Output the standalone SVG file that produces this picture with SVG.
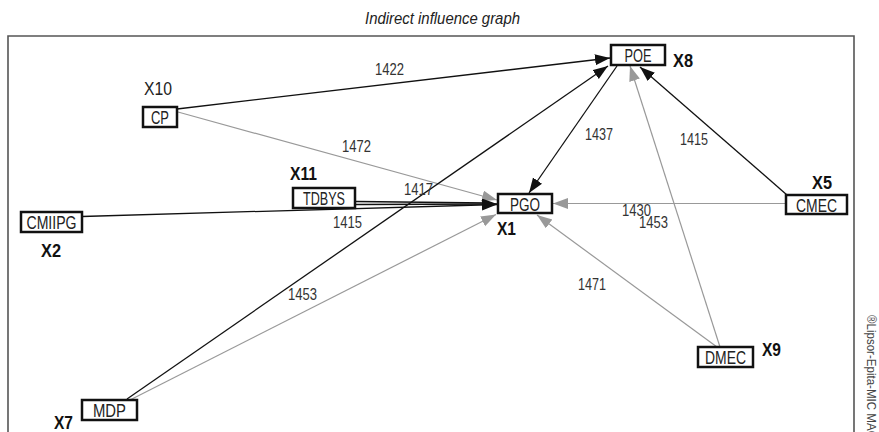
<svg xmlns="http://www.w3.org/2000/svg" width="879" height="432" viewBox="0 0 879 432">
<style>
  text { font-family: "Liberation Sans", Arial, sans-serif; fill: #222; }
  .title { font-size: 16px; font-style: italic; }
  .node rect { fill: #fff; stroke: #111; stroke-width: 2.5; }
  .node text { font-size: 19px; text-anchor: middle; }
  .node text.xl { font-size: 19px; font-weight: bold; fill: #111; text-anchor: start; }
  .node text.xr { font-size: 18px; text-anchor: start; }
  .num { font-size: 17px; fill: #333; }
  .blk { stroke: #111; stroke-width: 1.3; fill: none; }
  .gry { stroke: #999; stroke-width: 1.2; fill: none; }
  .copy { font-size: 13px; fill: #444; }
</style>
<defs>
  <marker id="ab" markerUnits="userSpaceOnUse" markerWidth="16" markerHeight="12" refX="15" refY="5.5" orient="auto">
    <path d="M0,0 L15,5.5 L0,11 z" fill="#111"/>
  </marker>
  <marker id="ag" markerUnits="userSpaceOnUse" markerWidth="16" markerHeight="12" refX="15" refY="5.5" orient="auto">
    <path d="M0,0 L15,5.5 L0,11 z" fill="#999"/>
  </marker>
</defs>

<text class="title" x="365" y="24" textLength="155" lengthAdjust="spacingAndGlyphs">Indirect influence graph</text>
<path d="M8,432 V36 H854 V432" fill="none" stroke="#555" stroke-width="1.6"/>
<text class="copy" transform="translate(867,315) rotate(90)" textLength="124" lengthAdjust="spacingAndGlyphs">®Lipsor-Epita-MIC MAC</text>

<g id="connectors">
  <line class="blk" x1="177" y1="109" x2="610" y2="58" marker-end="url(#ab)"/>
  <line class="gry" x1="178" y1="112" x2="497" y2="200" marker-end="url(#ag)"/>
  <line class="blk" x1="356" y1="201.5" x2="488" y2="203"/>
  <line class="blk" x1="356" y1="204.5" x2="497" y2="204" marker-end="url(#ab)"/>
  <line class="blk" x1="82" y1="216.5" x2="497" y2="204.5" marker-end="url(#ab)"/>
  <line class="blk" x1="127" y1="399" x2="608" y2="66" marker-end="url(#ab)"/>
  <line class="gry" x1="130" y1="400" x2="496" y2="214.5" marker-end="url(#ag)"/>
  <line class="blk" x1="617" y1="66" x2="529" y2="193" marker-end="url(#ab)"/>
  <line class="blk" x1="787" y1="195" x2="640" y2="67" marker-end="url(#ab)"/>
  <line class="gry" x1="786" y1="203.5" x2="553" y2="203.5" marker-end="url(#ag)"/>
  <line class="gry" x1="720" y1="347" x2="630" y2="66" marker-end="url(#ag)"/>
  <line class="gry" x1="717" y1="347" x2="537" y2="215" marker-end="url(#ag)"/>
  <text class="num" x="375" y="75" textLength="29" lengthAdjust="spacingAndGlyphs">1422</text>
  <text class="num" x="342" y="152" textLength="29" lengthAdjust="spacingAndGlyphs">1472</text>
  <text class="num" x="404" y="195" textLength="29" lengthAdjust="spacingAndGlyphs">1417</text>
  <text class="num" x="333" y="228" textLength="29" lengthAdjust="spacingAndGlyphs">1415</text>
  <text class="num" x="288" y="300" textLength="29" lengthAdjust="spacingAndGlyphs">1453</text>
  <text class="num" x="585" y="140" textLength="28" lengthAdjust="spacingAndGlyphs">1437</text>
  <text class="num" x="680" y="145" textLength="28" lengthAdjust="spacingAndGlyphs">1415</text>
  <text class="num" x="622" y="216" textLength="29" lengthAdjust="spacingAndGlyphs">1430</text>
  <text class="num" x="639" y="228" textLength="29" lengthAdjust="spacingAndGlyphs">1453</text>
  <text class="num" x="578" y="290" textLength="28" lengthAdjust="spacingAndGlyphs">1471</text>
</g>

<g id="POE" class="node"><rect x="611" y="45" width="54" height="20"/><text x="638" y="62" textLength="27" lengthAdjust="spacingAndGlyphs">POE</text><text class="xl" x="673" y="67" textLength="20" lengthAdjust="spacingAndGlyphs">X8</text></g>
<g id="PGO" class="node"><rect x="498" y="194" width="54" height="19"/><text x="525" y="210.5" textLength="30" lengthAdjust="spacingAndGlyphs">PGO</text><text class="xl" x="497" y="235" textLength="19" lengthAdjust="spacingAndGlyphs">X1</text></g>
<g id="CMEC" class="node"><rect x="786" y="195" width="61" height="19"/><text x="816.5" y="211.5" textLength="41" lengthAdjust="spacingAndGlyphs">CMEC</text><text class="xl" x="812" y="189" textLength="20" lengthAdjust="spacingAndGlyphs">X5</text></g>
<g id="CP" class="node"><rect x="143" y="107" width="34" height="20"/><text x="160" y="124" textLength="18" lengthAdjust="spacingAndGlyphs">CP</text><text class="xr" x="144" y="95" textLength="28" lengthAdjust="spacingAndGlyphs">X10</text></g>
<g id="TDBYS" class="node"><rect x="293" y="188" width="62" height="20"/><text x="324" y="205" textLength="42" lengthAdjust="spacingAndGlyphs">TDBYS</text><text class="xl" x="290" y="180" textLength="27" lengthAdjust="spacingAndGlyphs">X11</text></g>
<g id="CMIIPG" class="node"><rect x="21" y="212" width="61" height="20"/><text x="51.5" y="229" textLength="50" lengthAdjust="spacingAndGlyphs">CMIIPG</text><text class="xl" x="41" y="257" textLength="20" lengthAdjust="spacingAndGlyphs">X2</text></g>
<g id="MDP" class="node"><rect x="82" y="400" width="55" height="20"/><text x="109.5" y="417" textLength="33" lengthAdjust="spacingAndGlyphs">MDP</text><text class="xl" x="54" y="429" textLength="19" lengthAdjust="spacingAndGlyphs">X7</text></g>
<g id="DMEC" class="node"><rect x="698" y="347" width="55" height="20"/><text x="725.5" y="364" textLength="41" lengthAdjust="spacingAndGlyphs">DMEC</text><text class="xl" x="762" y="356" textLength="19" lengthAdjust="spacingAndGlyphs">X9</text></g>
</svg>
